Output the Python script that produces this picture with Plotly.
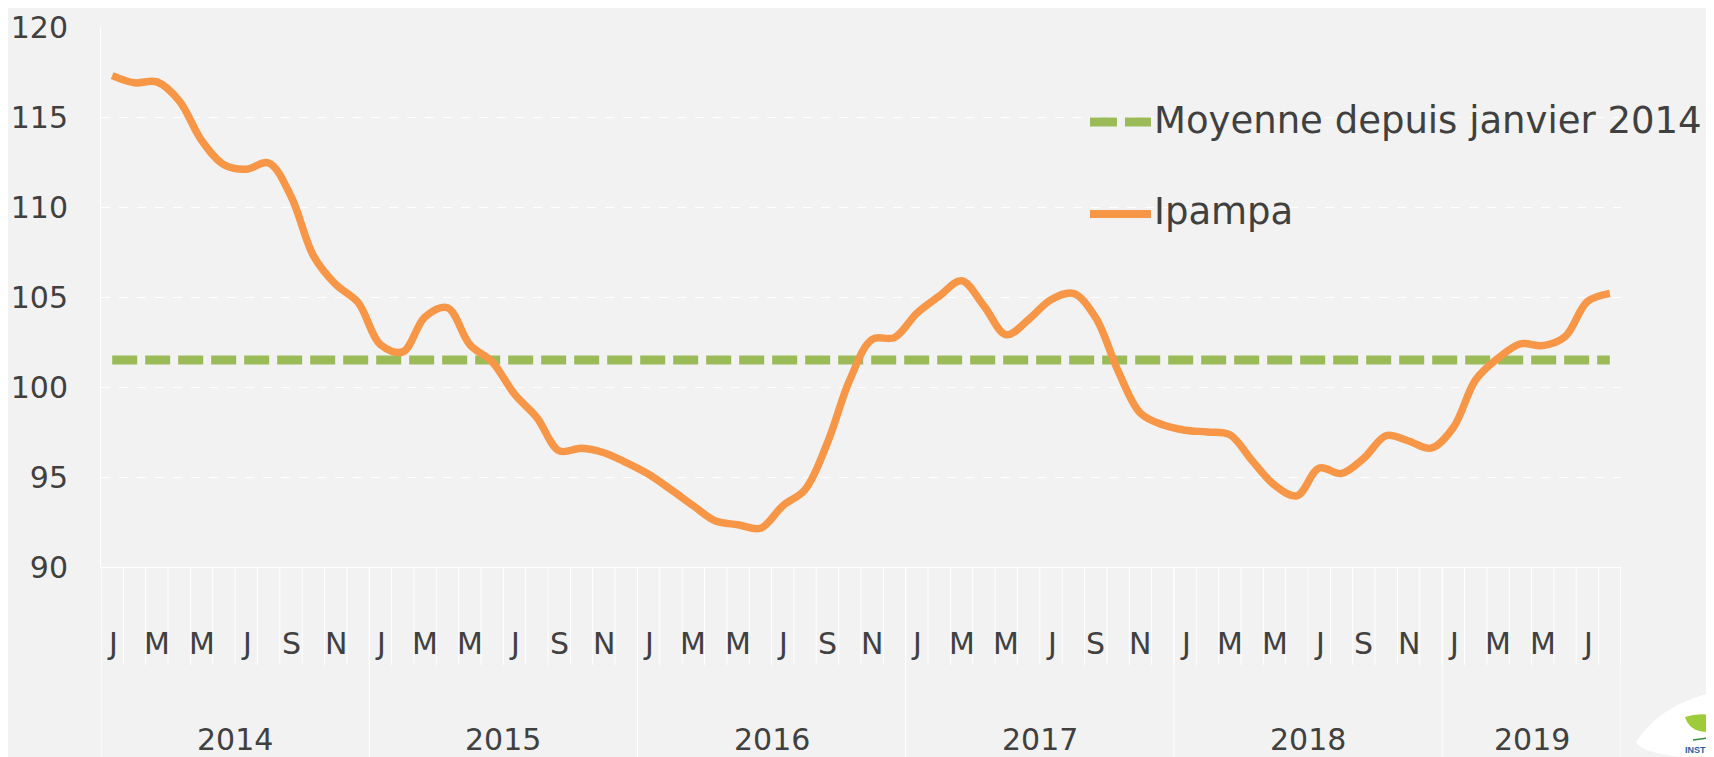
import plotly.graph_objects as go

# ---------------- data ----------------
YEARS = ["2014", "2015", "2016", "2017", "2018", "2019"]
MONTHS_PER_YEAR = [12, 12, 12, 12, 12, 8]
MONTH_LETTERS = ["J", "F", "M", "A", "M", "J", "J", "A", "S", "O", "N", "D"]

IPAMPA = [
    117.3, 116.9, 116.95, 115.9, 113.7, 112.35, 112.1, 112.45, 110.6, 107.3, 105.7, 104.7,
    102.35, 101.95, 103.9, 104.4, 102.35, 101.4, 99.6, 98.3, 96.45, 96.6, 96.35, 95.8,
    95.15, 94.3, 93.4, 92.55, 92.35, 92.15, 93.4, 94.3, 96.9, 100.4, 102.65, 102.75,
    104.1, 105.05, 105.9, 104.5, 102.9, 103.75, 104.85, 105.2, 103.85, 100.9, 98.55, 97.9,
    97.6, 97.5, 97.35, 95.9, 94.55, 93.95, 95.5, 95.2, 96.05, 97.3, 97.0, 96.6,
    97.75, 100.4, 101.6, 102.4, 102.3, 102.8, 104.75, 105.2,
]
MOYENNE = 101.5

Y_TICKS = [90, 95, 100, 105, 110, 115, 120]

SERIES_NAMES = ["Moyenne depuis janvier 2014", "Ipampa"]

# ---------------- styling ----------------
# page coordinates (window 1714x757); the html body adds an 8px margin
PAGE_W, PAGE_H = 1714, 757
BODY = 8
L, R, T, B = 101, 1621, 27, 567
BG = "#F2F2F2"
ORANGE = "#F79646"
GREEN = "#9BBB59"
TXT = "#404040"
FONT = "DejaVu Sans"
FS = 30
FS_LEG = 37

def px(x):
    return (x - L) / (R - L)

def py(y):
    return (B - y) / (B - T)

n = len(IPAMPA)
x_idx = list(range(n))

fig = go.Figure()
fig.add_trace(go.Scatter(
    x=[x_idx[0], x_idx[-1]], y=[MOYENNE, MOYENNE], mode="lines",
    line=dict(color=GREEN, width=9, dash="25px,8px"),
    name=SERIES_NAMES[0], showlegend=False, hoverinfo="skip",
))
fig.add_trace(go.Scatter(
    x=x_idx, y=IPAMPA, mode="lines",
    line=dict(color=ORANGE, width=7.5, shape="spline", smoothing=1),
    name=SERIES_NAMES[1], showlegend=False,
))

shapes = []
annotations = []

# month labels + boundary lines
months_flat = []
for yi, cnt in enumerate(MONTHS_PER_YEAR):
    for m in range(cnt):
        months_flat.append(MONTH_LETTERS[m])
for i, letter in enumerate(months_flat):
    if i % 2 == 0:
        annotations.append(dict(
            x=i, y=py(643), xref="x", yref="paper", text=letter, showarrow=False,
            xanchor="center", yanchor="middle",
            font=dict(family=FONT, size=FS, color=TXT),
        ))
for i in range(n + 1):
    shapes.append(dict(
        type="line", xref="x", yref="paper", x0=i - 0.5, x1=i - 0.5,
        y0=0, y1=py(665), line=dict(color="#FFFFFF", width=1), layer="below",
    ))

# year labels + separators
start = 0
for yi, cnt in enumerate(MONTHS_PER_YEAR):
    annotations.append(dict(
        x=start + (cnt - 1) / 2, y=py(739), xref="x", yref="paper", text=YEARS[yi],
        showarrow=False, xanchor="center", yanchor="middle",
        font=dict(family=FONT, size=FS, color=TXT),
    ))
    shapes.append(dict(
        type="line", xref="x", yref="paper", x0=start - 0.5, x1=start - 0.5,
        y0=0, y1=py(PAGE_H), line=dict(color="#FFFFFF", width=1), layer="below",
    ))
    start += cnt
shapes.append(dict(
    type="line", xref="x", yref="paper", x0=start - 0.5, x1=start - 0.5,
    y0=0, y1=py(PAGE_H), line=dict(color="#FFFFFF", width=1), layer="below",
))

# manual legend
shapes.append(dict(type="line", xref="paper", yref="paper",
                   x0=px(1090), x1=px(1117), y0=py(122), y1=py(122),
                   line=dict(color=GREEN, width=9)))
shapes.append(dict(type="line", xref="paper", yref="paper",
                   x0=px(1125), x1=px(1151), y0=py(122), y1=py(122),
                   line=dict(color=GREEN, width=9)))
shapes.append(dict(type="line", xref="paper", yref="paper",
                   x0=px(1090), x1=px(1151), y0=py(214), y1=py(214),
                   line=dict(color=ORANGE, width=8)))
annotations.append(dict(x=px(1152), y=py(120), xref="paper", yref="paper",
                        text=SERIES_NAMES[0], showarrow=False, xanchor="left",
                        yanchor="middle", font=dict(family=FONT, size=FS_LEG, color=TXT)))
annotations.append(dict(x=px(1152), y=py(212), xref="paper", yref="paper",
                        text=SERIES_NAMES[1], showarrow=False, xanchor="left",
                        yanchor="middle", font=dict(family=FONT, size=FS_LEG, color=TXT)))

# logo approximation (bottom right)
shapes.append(dict(type="path", xref="paper", yref="paper",
                   path=f"M {px(1636)},{py(742)} Q {px(1660)},{py(705)} {px(1714)},{py(692)} "
                        f"L {px(1714)},{py(757)} L {px(1680)},{py(757)} Q {px(1640)},{py(752)} {px(1636)},{py(742)} Z",
                   fillcolor="#FFFFFF", line=dict(width=0)))
shapes.append(dict(type="path", xref="paper", yref="paper",
                   path=f"M {px(1685)},{py(717)} Q {px(1700)},{py(712)} {px(1714)},{py(716)} "
                        f"L {px(1714)},{py(732)} Q {px(1690)},{py(734)} {px(1685)},{py(717)} Z",
                   fillcolor="#9DCB3B", line=dict(width=0)))
shapes.append(dict(type="line", xref="paper", yref="paper",
                   x0=px(1693), x1=px(1714), y0=py(740), y1=py(737),
                   line=dict(color="#2E8B3A", width=1.5)))
annotations.append(dict(x=px(1683), y=py(750), xref="paper", yref="paper",
                        text="<b>INSTITUT</b>", showarrow=False, xanchor="left",
                        yanchor="middle", font=dict(family="Liberation Sans Narrow, Liberation Sans", size=9, color="#1F5FA8")))

fig_w, fig_h = PAGE_W - BODY, PAGE_H - BODY
fig.update_layout(
    width=fig_w, height=fig_h,
    margin=dict(l=L - BODY, r=fig_w - (R - BODY), t=T - BODY, b=fig_h - (B - BODY), pad=0,
                autoexpand=False),
    paper_bgcolor=BG, plot_bgcolor=BG,
    showlegend=False,
    shapes=shapes, annotations=annotations,
    xaxis=dict(range=[-0.5, n - 0.5], showgrid=False, zeroline=False, automargin=False,
               showticklabels=False, ticks="", showline=True, linecolor="#FFFFFF", linewidth=1),
    yaxis=dict(range=[90, 120], tickvals=Y_TICKS, showgrid=True, gridcolor="#FFFFFF",
               gridwidth=1, griddash="dash", zeroline=False, showline=True, automargin=False,
               linecolor="#FFFFFF", linewidth=1, ticks="", ticklabelstandoff=26,
               tickfont=dict(family=FONT, size=FS, color=TXT)),
)

fig.write_html("out.html")
